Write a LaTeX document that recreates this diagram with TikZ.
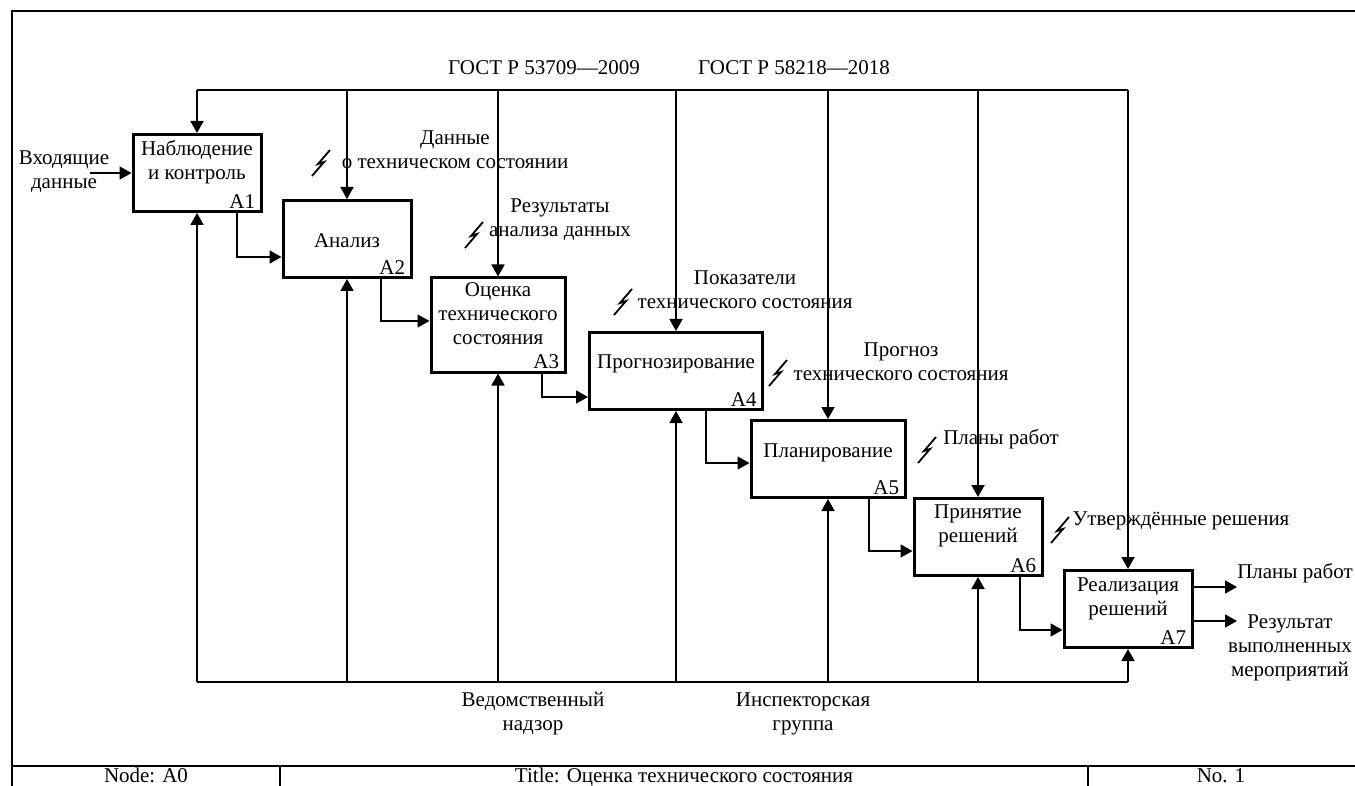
\documentclass[tikz,border=0pt]{standalone}
\usepackage{fontspec}
\setmainfont{Liberation Serif}
\usetikzlibrary{arrows.meta,calc}
\tikzset{squig/.pic={\draw[line width=0.9pt] (9,-13) -- (-3,1) -- (3,-1) -- (-9,13);}}

\begin{document}
\begin{tikzpicture}[x=0.5pt, y=-0.5pt,
    every node/.style={font=\fontsize{10.5}{12}\selectfont},
    fbox/.style={draw, line width=1.5pt, minimum height=38.5pt, inner sep=0pt},
    btext/.style={align=center, inner sep=0pt},
    num/.style={anchor=south east, inner xsep=3.5pt, inner ysep=2pt},
    lab/.style={align=center, inner sep=0pt},
    conn/.style={line width=0.9pt},
    arr/.style={conn, -{Triangle[length=6pt,width=6.5pt]}},
]
\useasboundingbox (0,0) rectangle (1355,786);
\draw[line width=1.1pt] (1355,11) -- (12,11) -- (12,786);
\draw[line width=1.1pt] (12,766) -- (1355,766);
\draw[line width=0.9pt] (280,766) -- (280,786) (1088,766) -- (1088,786);
\node[anchor=base] (nd) at (146,782) {Node: A0};
\node[anchor=base] (tt) at (684,782) {Title: Оценка технического состояния};
\node[anchor=base] (no) at (1221,782) {No. 1};

\node[fbox, minimum width=64pt] (a1) at (197,173) {};
\node[fbox, minimum width=64pt] (a2) at (347,239) {};
\node[fbox, minimum width=67pt, minimum height=47pt] (a3) at (498,325) {};
\node[fbox, minimum width=86.5pt] (a4) at (676,371) {};
\node[fbox, minimum width=77pt] (a5) at (828,459) {};
\node[fbox, minimum width=64pt] (a6) at (978,537) {};
\node[fbox, minimum width=64pt] (a7) at (1128,609) {};

\node[btext] (a1t) at ([yshift=5.5pt]a1.center) {Наблюдение\\и контроль};
\node[btext] (a2t) at ([yshift=-1pt]a2.center) {Анализ};
\node[btext] (a3t) at ([yshift=5.5pt]a3.center) {Оценка\\технического\\состояния};
\node[btext] (a4t) at ([yshift=3.5pt]a4.center) {Прогнозирование};
\node[btext] (a5t) at ([yshift=3pt]a5.center) {Планирование};
\node[btext] (a6t) at ([yshift=5.5pt]a6.center) {Принятие\\решений};
\node[btext] (a7t) at ([yshift=5pt]a7.center) {Реализация\\решений};

\node[num] (a1n) at (a1.south east) {A1};
\node[num] (a2n) at (a2.south east) {A2};
\node[num] (a3n) at (a3.south east) {A3};
\node[num] (a4n) at (a4.south east) {A4};
\node[num] (a5n) at (a5.south east) {A5};
\node[num] (a6n) at (a6.south east) {A6};
\node[num] (a7n) at (a7.south east) {A7};

\node[lab] (in1) at (64,172) {Входящие\\данные};
\node[lab] (gost1) at (544,68) {ГОСТ Р 53709—2009};
\node[lab] (gost2) at (794,68) {ГОСТ Р 58218—2018};
\node[lab] (lab1) at (455,150) {Данные\\о техническом состоянии};
\node[lab] (lab2) at (560,220) {Результаты\\анализа данных};
\node[lab] (lab3) at (745,290) {Показатели\\технического состояния};
\node[lab] (lab4) at (901,362) {Прогноз\\технического состояния};
\node[lab] (lab5) at (1001,439) {Планы работ};
\node[lab] (lab6) at (1181,521) {Утверждённые решения};
\node[lab] (out1) at (1295,573) {Планы работ};
\node[lab] (out2) at (1290,648) {Результат\\выполненных\\мероприятий};
\node[lab] (mech1) at (533,714) {Ведомственный\\надзор};
\node[lab] (mech2) at (803,714) {Инспекторская\\группа};

\pic at (321,163) {squig};
\pic at (474,235) {squig};
\pic at (623,302) {squig};
\pic at (778,373) {squig};
\pic at (927,450) {squig};
\pic at (1060,530) {squig};

\coordinate (ctl) at (0,90);
\coordinate (mch) at (0,682);
\coordinate (i1) at (90,173);
\coordinate (o1) at (1237,587);
\coordinate (o2) at (1237,621);

\draw[conn] (a1.north |- ctl) -- (a7.north |- ctl);
\draw[arr] (a1.north |- ctl) -- (a1.north);
\draw[arr] (a2.north |- ctl) -- (a2.north);
\draw[arr] (a3.north |- ctl) -- (a3.north);
\draw[arr] (a4.north |- ctl) -- (a4.north);
\draw[arr] (a5.north |- ctl) -- (a5.north);
\draw[arr] (a6.north |- ctl) -- (a6.north);
\draw[arr] (a7.north |- ctl) -- (a7.north);

\draw[conn] (a1.south |- mch) -- (a7.south |- mch);
\draw[arr] (a1.south |- mch) -- (a1.south);
\draw[arr] (a2.south |- mch) -- (a2.south);
\draw[arr] (a3.south |- mch) -- (a3.south);
\draw[arr] (a4.south |- mch) -- (a4.south);
\draw[arr] (a5.south |- mch) -- (a5.south);
\draw[arr] (a6.south |- mch) -- (a6.south);
\draw[arr] (a7.south |- mch) -- (a7.south);

\draw[arr] (i1) -- (a1.west);
\draw[arr] ([xshift=20pt]a1.south) |- ([yshift=-9pt]a2.west);
\draw[arr] ([xshift=17pt]a2.south) |- ([yshift=2pt]a3.west);
\draw[arr] ([xshift=22pt]a3.south) |- ([yshift=-13pt]a4.west);
\draw[arr] ([xshift=15pt]a4.south) |- ([yshift=-2pt]a5.west);
\draw[arr] ([xshift=20.5pt]a5.south) |- ([yshift=-7pt]a6.west);
\draw[arr] ([xshift=21pt]a6.south) |- ([yshift=-10.5pt]a7.west);
\draw[arr] ([yshift=11pt]a7.east) -- (o1);
\draw[arr] ([yshift=-6pt]a7.east) -- (o2);
\end{tikzpicture}
\end{document}
